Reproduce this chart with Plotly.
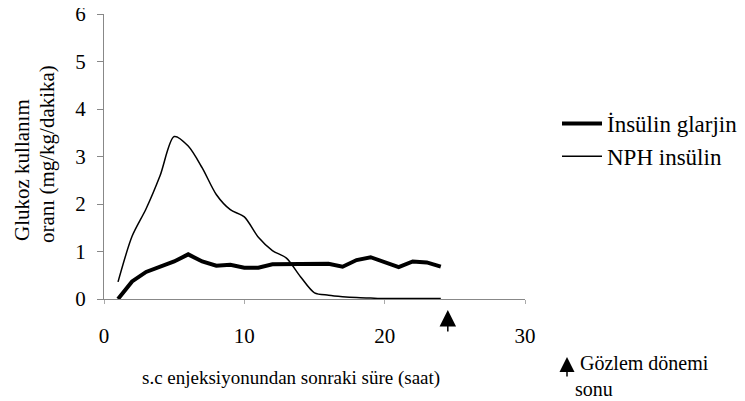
import plotly.graph_objects as go

# Data (hours after s.c. injection)
hours = list(range(1, 25))
glarjin = [0.00, 0.37, 0.57, 0.67, 0.79, 0.94, 0.79, 0.70, 0.72, 0.66, 0.66, 0.73,
           0.73, 0.73, 0.75, 0.74, 0.68, 0.82, 0.88, 0.78, 0.67, 0.79, 0.77, 0.68]
nph = [0.36, 1.32, 1.90, 2.60, 3.42, 3.22, 2.76, 2.20, 1.88, 1.73, 1.30, 1.02,
       0.86, 0.47, 0.13, 0.08, 0.05, 0.03, 0.02, 0.01, 0.01, 0.01, 0.01, 0.01]
x_ticks = [0, 10, 20, 30]
y_ticks = [0, 1, 2, 3, 4, 5, 6]
observation_end = 24.5

FONT = "Liberation Serif"
OFF = 8  # page body margin
W, H = 745 - OFF, 401 - OFF
L, T = 104 - OFF, 14 - OFF
R = W - (525 - OFF)
B = H - (299 - OFF)
PW, PH = W - L - R, H - T - B


def px(xp):  # page pixel -> paper x
    return (xp - OFF - L) / PW


def py(yp):  # page pixel -> paper y
    return (H - B - (yp - OFF)) / PH


fig = go.Figure()
fig.add_trace(go.Scatter(x=hours, y=glarjin, mode="lines", name="İnsülin glarjin",
                         line=dict(color="black", width=4)))
fig.add_trace(go.Scatter(x=hours, y=nph, mode="lines", name="NPH insülin",
                         line=dict(color="black", width=1.5, shape="spline", smoothing=0.8)))

fig.update_layout(
    width=W, height=H,
    margin=dict(l=L, r=R, t=T, b=B, autoexpand=False),
    paper_bgcolor="white", plot_bgcolor="white",
    font=dict(family=FONT, size=21, color="black"),
    showlegend=True,
    legend=dict(x=px(557), y=py(102), xanchor="left", yanchor="top",
                font=dict(family=FONT, size=23, color="black"),
                bgcolor="rgba(0,0,0,0)", itemwidth=40, tracegroupgap=0),
    xaxis=dict(range=[0, 30], tickvals=x_ticks, showgrid=False, zeroline=False,
               showline=True, linecolor="#888", linewidth=1, automargin=False,
               ticks="outside", ticklen=4, tickcolor="#aaa",
               ticklabelstandoff=14, ticklabeloverflow="allow",
               tickfont=dict(family=FONT, size=21, color="black")),
    yaxis=dict(range=[0, 6], tickvals=y_ticks, showgrid=False, zeroline=False,
               showline=True, linecolor="#888", linewidth=1, automargin=False,
               ticks="outside", ticklen=6, tickcolor="#888",
               ticklabelstandoff=7, ticklabeloverflow="allow",
               tickfont=dict(family=FONT, size=21, color="black")),
)

# Axis titles
fig.add_annotation(text="s.c enjeksiyonundan sonraki süre (saat)", xref="paper", yref="paper",
                   x=px(291), y=py(378), xanchor="center", yanchor="middle", showarrow=False,
                   font=dict(family=FONT, size=19))
fig.add_annotation(text="Glukoz kullanım", xref="paper", yref="paper",
                   x=px(22), y=py(170), xanchor="center", yanchor="middle",
                   textangle=-90, showarrow=False, font=dict(family=FONT, size=21))
fig.add_annotation(text="oranı (mg/kg/dakika)", xref="paper", yref="paper",
                   x=px(47), y=py(154), xanchor="center", yanchor="middle",
                   textangle=-90, showarrow=False, font=dict(family=FONT, size=21))

# Observation end arrow under axis
fig.add_annotation(x=observation_end, y=py(310), xref="x", yref="paper",
                   ax=0, ay=23, showarrow=True, arrowhead=2, arrowsize=2.2,
                   arrowwidth=1.5, arrowcolor="black", text="")
# Note arrow + text
fig.add_annotation(x=px(567), y=py(357), xref="paper", yref="paper",
                   ax=0, ay=21, showarrow=True, arrowhead=2, arrowsize=2.0,
                   arrowwidth=1.5, arrowcolor="black", text="")
fig.add_annotation(text="&nbsp;Gözlem dönemi<br>sonu", xref="paper", yref="paper",
                   x=px(573), y=py(376), xanchor="left", yanchor="middle", align="left",
                   showarrow=False, font=dict(family=FONT, size=20))

fig.write_html("out.html", config={"displayModeBar": False})
